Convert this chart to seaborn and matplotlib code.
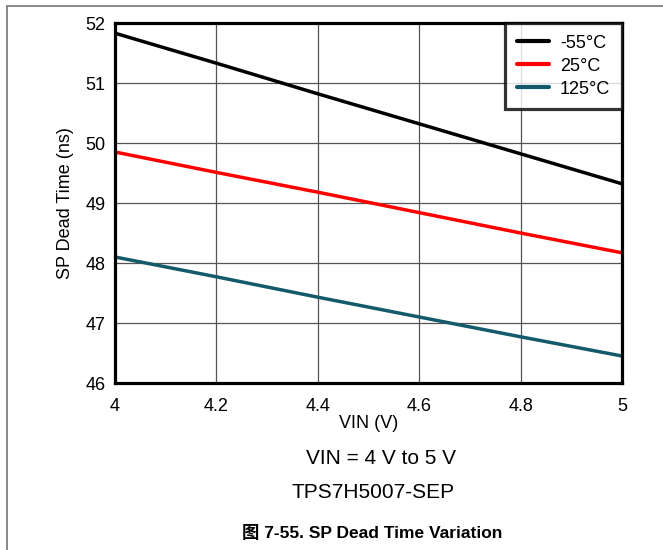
import pandas as pd
import matplotlib.pyplot as plt
import seaborn as sns
from matplotlib.lines import Line2D

# VIN sweep (V) and SP dead time (ns) per temperature
vin = [4.0, 4.2, 4.4, 4.6, 4.8, 5.0]
dead_m55 = [51.83, 51.33, 50.82, 50.32, 49.82, 49.32]
dead_25 = [49.85, 49.51, 49.18, 48.84, 48.50, 48.17]
dead_125 = [48.10, 47.77, 47.43, 47.10, 46.77, 46.45]
temps = ['-55°C', '25°C', '125°C']
colors = ['#000000', '#ff0000', '#135a6a']

x_ticks = [4, 4.2, 4.4, 4.6, 4.8, 5]
x_labels = ['4', '4.2', '4.4', '4.6', '4.8', '5']
y_ticks = [46, 47, 48, 49, 50, 51, 52]

df = pd.DataFrame({
    'VIN': vin * 3,
    'Dead': dead_m55 + dead_25 + dead_125,
    'Temp': [temps[0]] * len(vin) + [temps[1]] * len(vin) + [temps[2]] * len(vin),
})

sns.set_theme(style='white', rc={'text.color': 'black', 'axes.labelcolor': 'black'})
plt.rcParams['font.family'] = ['Liberation Sans', 'Noto Sans CJK SC', 'DejaVu Sans']

fig = plt.figure(figsize=(6.63, 5.5), dpi=100)
ax = fig.add_axes([115 / 663, 1 - 383 / 550, (622 - 115) / 663, (383 - 23) / 550])

sns.lineplot(data=df, x='VIN', y='Dead', hue='Temp', hue_order=temps,
             palette=colors, linewidth=2.5, ax=ax)

ax.set_xlim(4, 5)
ax.set_ylim(46, 52)
ax.set_xticks(x_ticks)
ax.set_xticklabels(x_labels)
ax.set_yticks(y_ticks)
ax.grid(True, color='#555555', linewidth=0.9)
ax.set_axisbelow(True)
for s in ax.spines.values():
    s.set_linewidth(2.3)
    s.set_color('black')
ax.tick_params(axis='both', labelsize=13, length=0, colors='black')
ax.tick_params(axis='x', pad=11)
ax.tick_params(axis='y', pad=7)
ax.set_xlabel('VIN (V)', fontsize=13, labelpad=0)
ax.set_ylabel('SP Dead Time (ns)', fontsize=13, labelpad=8)

leg = ax.legend(loc='upper right', fontsize=13, frameon=True, fancybox=False,
                borderaxespad=0, handlelength=1.8, handletextpad=0.6,
                labelspacing=0.33, borderpad=0.65)
leg.get_frame().set_edgecolor('black')
leg.get_frame().set_linewidth(2.3)
for h in leg.get_lines():
    h.set_linewidth(3)

fig.text(381 / 663, 1 - 459 / 550, 'VIN = 4 V to 5 V', ha='center', va='center', fontsize=15)
fig.text(373 / 663, 1 - 493 / 550, 'TPS7H5007-SEP', ha='center', va='center', fontsize=15)
fig.text(372 / 663, 1 - 533 / 550, '图 7-55. SP Dead Time Variation', ha='center',
         va='center', fontsize=12.5, fontweight='bold')

# page frame: left and top rules only
fig.add_artist(Line2D([7 / 663, 7 / 663], [0, 1 - 5.5 / 550], transform=fig.transFigure,
                      color='#808080', linewidth=1.3))
fig.add_artist(Line2D([7 / 663, 1], [1 - 5.5 / 550, 1 - 5.5 / 550], transform=fig.transFigure,
                      color='#808080', linewidth=1.3))

fig.savefig('out.png', dpi=100)
